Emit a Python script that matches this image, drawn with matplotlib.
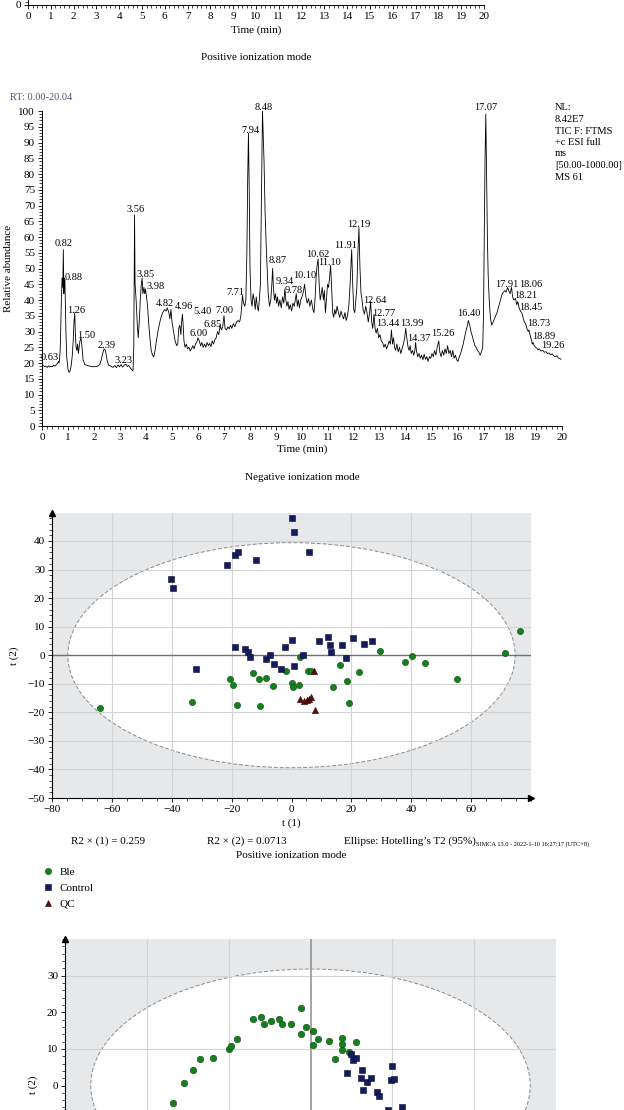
import numpy as np
import matplotlib
matplotlib.use("Agg")
import matplotlib.pyplot as plt
from matplotlib.patches import Ellipse
from matplotlib.ticker import MultipleLocator
from matplotlib.lines import Line2D

plt.rcParams['font.family'] = ['Liberation Serif', 'DejaVu Serif']

# ---------------- data ----------------
# Negative ionization mode TIC trace (time in min, relative abundance %)
neg_time = [
    0.00, 0.05, 0.10, 0.15, 0.20, 0.25, 0.30, 0.35, 0.40, 0.45,
    0.50, 0.55, 0.60, 0.63, 0.66, 0.70, 0.74, 0.77, 0.80, 0.82,
    0.84, 0.86, 0.88, 0.90, 0.92, 0.95, 1.00, 1.04, 1.08, 1.12,
    1.16, 1.20, 1.23, 1.26, 1.28, 1.31, 1.34, 1.37, 1.40, 1.43,
    1.46, 1.50, 1.54, 1.58, 1.65, 1.75, 1.85, 1.95, 2.05, 2.15,
    2.22, 2.28, 2.33, 2.39, 2.44, 2.50, 2.56, 2.65, 2.72, 2.80,
    2.86, 2.92, 2.98, 3.04, 3.10, 3.16, 3.23, 3.28, 3.34, 3.40,
    3.46, 3.50, 3.53, 3.56, 3.58, 3.62, 3.66, 3.70, 3.74, 3.78,
    3.82, 3.85, 3.88, 3.92, 3.95, 3.98, 4.02, 4.06, 4.10, 4.15,
    4.20, 4.25, 4.30, 4.35, 4.40, 4.48, 4.56, 4.64, 4.72, 4.78,
    4.82, 4.88, 4.92, 4.96, 5.00, 5.06, 5.12, 5.18, 5.22, 5.26,
    5.30, 5.34, 5.37, 5.40, 5.43, 5.46, 5.50, 5.55, 5.60, 5.65,
    5.70, 5.75, 5.80, 5.85, 5.90, 5.95, 6.00, 6.05, 6.10, 6.15,
    6.20, 6.25, 6.30, 6.35, 6.40, 6.45, 6.50, 6.55, 6.60, 6.65,
    6.70, 6.75, 6.80, 6.85, 6.90, 6.95, 7.00, 7.04, 7.10, 7.15,
    7.20, 7.25, 7.30, 7.36, 7.42, 7.48, 7.54, 7.60, 7.65, 7.68,
    7.71, 7.75, 7.80, 7.84, 7.88, 7.91, 7.94, 7.97, 8.00, 8.04,
    8.08, 8.12, 8.16, 8.20, 8.24, 8.28, 8.32, 8.36, 8.40, 8.43,
    8.46, 8.48, 8.51, 8.54, 8.58, 8.62, 8.66, 8.70, 8.75, 8.80,
    8.84, 8.87, 8.90, 8.94, 8.98, 9.02, 9.06, 9.10, 9.15, 9.20,
    9.25, 9.30, 9.34, 9.38, 9.42, 9.46, 9.50, 9.55, 9.60, 9.65,
    9.70, 9.74, 9.78, 9.82, 9.86, 9.90, 9.95, 10.00, 10.05, 10.10,
    10.15, 10.20, 10.25, 10.30, 10.36, 10.42, 10.46, 10.50, 10.54, 10.58,
    10.62, 10.66, 10.70, 10.74, 10.78, 10.82, 10.86, 10.90, 10.94, 10.98,
    11.02, 11.06, 11.10, 11.14, 11.18, 11.22, 11.26, 11.30, 11.35, 11.40,
    11.45, 11.50, 11.55, 11.60, 11.65, 11.70, 11.75, 11.80, 11.85, 11.91,
    11.95, 11.99, 12.03, 12.07, 12.11, 12.15, 12.19, 12.23, 12.27, 12.31,
    12.35, 12.40, 12.45, 12.50, 12.55, 12.60, 12.64, 12.68, 12.72, 12.77,
    12.81, 12.85, 12.90, 12.95, 13.00, 13.05, 13.10, 13.15, 13.20, 13.25,
    13.30, 13.35, 13.40, 13.44, 13.48, 13.52, 13.56, 13.60, 13.65, 13.70,
    13.75, 13.80, 13.85, 13.90, 13.95, 13.99, 14.03, 14.08, 14.12, 14.16,
    14.20, 14.25, 14.30, 14.34, 14.37, 14.40, 14.45, 14.50, 14.55, 14.60,
    14.65, 14.70, 14.75, 14.80, 14.85, 14.90, 14.95, 15.00, 15.05, 15.10,
    15.15, 15.20, 15.26, 15.30, 15.35, 15.40, 15.45, 15.50, 15.55, 15.60,
    15.65, 15.70, 15.75, 15.80, 15.85, 15.90, 15.95, 16.00, 16.05, 16.10,
    16.15, 16.20, 16.25, 16.30, 16.35, 16.40, 16.45, 16.50, 16.55, 16.60,
    16.65, 16.70, 16.75, 16.80, 16.85, 16.90, 16.95, 16.98, 17.01, 17.04,
    17.07, 17.10, 17.13, 17.16, 17.20, 17.25, 17.30, 17.35, 17.40, 17.45,
    17.50, 17.55, 17.60, 17.65, 17.70, 17.75, 17.80, 17.85, 17.91, 17.95,
    18.00, 18.06, 18.10, 18.15, 18.21, 18.26, 18.30, 18.35, 18.40, 18.45,
    18.50, 18.55, 18.60, 18.65, 18.70, 18.73, 18.78, 18.82, 18.86, 18.89,
    18.93, 18.98, 19.03, 19.08, 19.13, 19.18, 19.26, 19.32, 19.38, 19.44,
    19.50, 19.56, 19.62, 19.68, 19.74, 19.80, 19.86, 19.92, 19.96,
]
neg_abund = [
    19.0, 19.2, 18.8, 19.0, 18.6, 19.1, 18.7, 19.0, 18.8, 19.3,
    19.0, 19.5, 19.8, 20.5, 20.0, 24, 38, 47, 44, 56,
    42, 47, 46.5, 38, 30, 22, 18, 17, 17.5, 19,
    22, 27, 33, 36, 30, 25, 24, 26, 23, 25,
    27, 28, 25, 21, 19.5, 19.2, 19.0, 18.8, 18.9, 19.0,
    19.5, 21, 23, 24.5, 24, 21, 19.3, 19.0, 18.6, 19.2,
    18.5, 19.4, 18.8, 19.5, 18.7, 19.3, 19.6, 18.9, 19.2, 18.4,
    17.8, 17.5, 25, 67, 45, 40, 33, 28, 33, 40,
    45, 47, 42, 44, 42, 43.5, 41, 38, 33, 28,
    24, 22.5, 22, 24, 27, 31, 34, 36, 37, 36.5,
    37.5, 36, 34, 37, 33, 30, 27, 25.5, 26, 31,
    32, 29, 33, 35.5, 32, 27, 25, 26, 24.5, 25,
    23.8, 24.5, 25.5, 24.5, 26, 26.5, 28, 27, 25.5, 26.5,
    25, 26, 25, 26.5, 25.5, 26.2, 25.2, 27, 26, 27.5,
    28, 30, 29, 32, 30.5, 31.5, 35, 31, 30.5, 31.5,
    30.8, 32, 31, 32.5, 31.5, 33, 33.5, 33, 35, 38,
    41.5, 39, 38, 40, 55, 78, 93, 75, 50, 40,
    38, 42, 40, 37, 41, 38, 36.5, 40, 45, 65,
    85, 100, 92, 84, 68, 58, 50, 42, 38, 40,
    45, 50, 44, 40, 42, 39, 41, 38, 40, 37.5,
    41, 39, 43.5, 40, 38, 39.5, 37, 38.5, 36.5, 39,
    38, 40, 42, 38, 40, 37.5, 40, 41, 42.5, 45,
    41, 39, 40.5, 38, 40, 37, 36, 40, 47, 51,
    53, 45, 40, 42, 44, 40, 43, 36, 40, 45,
    44, 47, 51, 44, 36, 34.5, 37, 35.5, 38, 36,
    34.5, 36.5, 35, 34, 36, 33.5, 35, 38, 45, 56,
    45, 37, 36, 40, 44, 55, 63, 50, 42, 40,
    37, 35.5, 38, 36, 33, 36, 39.5, 33, 31, 35.5,
    31, 29.5, 31, 28, 29, 27, 26.5, 25, 26, 24.5,
    25.5, 27, 26, 30.5, 26, 28, 25, 24, 26, 23.5,
    25, 23, 24.5, 26, 28, 31, 28, 25, 24, 25.5,
    23, 24, 22.5, 24, 26.5, 24, 22, 23, 21.5, 22.5,
    21, 22.8, 21.2, 22, 20.5, 22, 21.5, 23, 22, 24,
    22.5, 25, 27, 23.5, 22, 24, 22.5, 24.5, 23, 25.5,
    23, 24, 22, 24, 21.5, 22.5, 21, 20.5, 22, 23,
    24.5, 26, 28, 30, 31.5, 33.5, 32, 30, 28.5, 27,
    25.5, 25, 24, 23.5, 22.5, 23.5, 25, 35, 60, 85,
    99, 80, 60, 48, 40, 34, 32, 33, 34, 35,
    36, 37.5, 39, 40.5, 42, 42.5, 43, 42.5, 44, 43,
    42, 44, 41, 40, 40.5, 38.5, 39.5, 37.5, 36.5, 36,
    34.5, 33, 32.5, 31, 30, 30.5, 28.5, 27.5, 26, 26.5,
    25.5, 25, 24.7, 24.2, 24.5, 23.8, 24, 23.4, 23.6, 23,
    23.2, 22.6, 22.9, 22.3, 22.0, 22.3, 21.6, 21.4, 21.2,
]

peak_labels = ["0.63", "0.82", "0.88", "1.26", "1.50", "2.39", "3.23", "3.56",
               "3.85", "3.98", "4.82", "4.96", "5.40", "6.00", "6.85", "7.00",
               "7.71", "7.94", "8.48", "8.87", "9.34", "9.78", "10.10", "10.62",
               "11.10", "11.91", "12.19", "12.64", "12.77", "13.44", "13.99",
               "14.37", "15.26", "16.40", "17.07", "17.91", "18.06", "18.21",
               "18.45", "18.73", "18.89", "19.26"]

nl_lines = ["NL:", "8.42E7", "TIC F: FTMS", "+c ESI full", "ms",
            "[50.00-1000.00]", "MS 61"]

# PCA score plot (positive ionization mode)
ble1_t1 = [-64.1, -33.3, -20.4, -19.6, -18.2, -13.0, -10.8, -8.4, -6.1, -10.4,
           -2.0, 0.2, 0.6, 2.6, 2.9, 5.6, 6.6, 13.8, 16.2, 18.4,
           19.1, 22.6, 29.7, 37.9, 40.2, 44.6, 55.4, 71.4, 76.3]
ble1_t2 = [-18.6, -16.4, -8.2, -10.4, -17.4, -6.3, -8.3, -8.0, -10.8, -17.9,
           -5.6, -9.9, -11.1, -10.4, -0.6, -5.7, -5.7, -11.2, -3.5, -8.9,
           -16.7, -6.0, 1.5, -2.3, -0.2, -2.6, -8.2, 0.9, 8.5]
ctl1_t1 = [-40.1, -39.6, -21.4, -18.8, -18.0, -11.8, 0.1, 1.0, 5.8, -31.9,
           -18.8, -15.6, -14.4, -13.8, -8.6, -7.1, -6.0, -3.6, -2.2, 0.2,
           0.9, 3.8, 9.1, 12.2, 12.7, 13.2, 17.0, 18.2, 20.7, 24.1, 26.9]
ctl1_t2 = [26.7, 23.7, 31.5, 35.1, 36.1, 33.3, 48.0, 43.2, 36.0, -4.8,
           2.9, 2.2, 1.3, -0.7, -1.4, 0.0, -3.2, -4.7, 2.9, 5.4,
           -3.7, 0.0, 4.9, 6.5, 3.5, 1.3, 3.5, -0.9, 6.1, 4.0, 4.9]
qc1_t1 = [2.9, 4.2, 5.1, 5.8, 6.6, 7.8, 7.6]
qc1_t2 = [-15.4, -16.1, -15.8, -15.5, -14.6, -19.3, -5.7]
ellipse1_axes = (74.7, 39.4)

# PCA score plot (negative ionization mode, upper part)
ble2_t1 = [-33.6, -31.0, -28.7, -26.9, -23.9, -20.0, -19.5, -18.0, -14.1, -12.0,
           -11.3, -9.6, -7.7, -7.0, -4.7, -2.3, -2.4, -1.0, 0.7, 1.9,
           0.6, 4.4, 7.7, 7.8, 7.6, 6.0, 9.3, 11.1]
ble2_t2 = [-4.9, 0.7, 4.1, 7.1, 7.6, 10.0, 10.8, 12.8, 18.2, 18.6,
           16.9, 17.6, 18.2, 16.7, 16.7, 21.1, 14.1, 16.0, 14.9, 12.8,
           11.1, 12.1, 13.0, 11.2, 9.7, 7.3, 9.2, 11.8]
ctl2_t1 = [9.9, 10.3, 11.1, 8.8, 12.6, 12.3, 13.7, 14.7, 12.9, 16.2,
           16.7, 19.9, 19.6, 20.5, 18.9, 22.4]
ctl2_t2 = [8.7, 7.0, 7.4, 3.4, 4.3, 2.0, 0.9, 2.0, -1.1, -1.7,
           -3.0, 5.2, 1.4, 1.7, -6.6, -5.9]
ellipse2_axes = (53.7, 31.8)

groups = ["Ble", "Control", "QC"]

# ---------------- layout helpers ----------------
W, H = 624, 1110
fig = plt.figure(figsize=(W / 100, H / 100), dpi=100)


def rect(l, t, r, b):
    return [l / W, 1 - b / H, (r - l) / W, (b - t) / H]


def fx(x):
    return x / W


def fy(y):
    return 1 - y / H


FS = 8

# ---------------- Panel A (cut off chromatogram axis) ----------------
axA = fig.add_axes(rect(28, -320, 484, 5))
axA.set_xlim(0, 20)
axA.set_ylim(0, 100)
for s in ["top", "right"]:
    axA.spines[s].set_visible(False)
axA.spines["bottom"].set_linewidth(0.7)
axA.spines["left"].set_linewidth(0.7)
axA.xaxis.set_major_locator(MultipleLocator(1))
axA.xaxis.set_minor_locator(MultipleLocator(0.2))
axA.yaxis.set_major_locator(MultipleLocator(5))
axA.yaxis.set_minor_locator(MultipleLocator(1))
axA.tick_params(axis="both", which="major", length=3, width=0.6, labelsize=FS, pad=2)
axA.tick_params(axis="both", which="minor", length=2, width=0.5)
axA.set_yticklabels([])
fig.text(fx(18), fy(5), "0", fontsize=FS, ha="center", va="center")
axA.set_xlabel("Time (min)", fontsize=FS, labelpad=3)
fig.text(fx(256), fy(57), "Positive ionization mode", fontsize=FS, ha="center", va="center")

# ---------------- Panel B (negative chromatogram) ----------------
axB = fig.add_axes(rect(42, 111, 562, 426))
axB.plot(neg_time, neg_abund, color="black", lw=0.6)
axB.set_xlim(0, 20)
axB.set_ylim(0, 100)
for s in ["top", "right"]:
    axB.spines[s].set_visible(False)
axB.spines["bottom"].set_linewidth(0.7)
axB.spines["left"].set_linewidth(0.7)
axB.xaxis.set_major_locator(MultipleLocator(1))
axB.xaxis.set_minor_locator(MultipleLocator(0.2))
axB.yaxis.set_major_locator(MultipleLocator(5))
axB.yaxis.set_minor_locator(MultipleLocator(1))
axB.tick_params(axis="both", which="major", length=3, width=0.6, labelsize=FS, pad=2)
axB.tick_params(axis="both", which="minor", length=2, width=0.5)
axB.set_xlabel("Time (min)", fontsize=FS, labelpad=2)
axB.set_ylabel("Relative abundance", fontsize=FS, labelpad=4)

label_offsets = [(-0.33, 0.3), (0.0, 1.0), (0.34, 0.0), (0.07, 0.0), (0.19, 0.0),
                 (0.08, 0.3), (-0.09, 0.3), (0.04, 1.0), (0.14, 0.3), (0.37, 0.0),
                 (-0.1, 0.7), (0.49, 0.3), (0.77, 0.0), (0.04, 0.5), (-0.27, -0.5),
                 (0.0, 0.8), (-0.29, 0.0), (0.07, 0.0), (0.05, 0.3), (0.18, 1.6),
                 (0.0, 1.5), (-0.11, 0.3), (0.0, 1.9), (0.0, 0.7), (-0.04, 0.1),
                 (-0.22, 0.4), (0.0, 0.3), (0.17, -0.6), (0.36, -0.6), (-0.13, 1.2),
                 (0.24, 0.7), (0.13, 0.6), (0.15, 1.6), (0.0, 1.4), (0.0, 1.3),
                 (-0.05, 0.2), (0.74, 0.2), (0.38, 0.0), (0.35, 0.8), (0.39, 1.2),
                 (0.41, 1.1), (0.38, 0.9)]
for lab, (dx, dy) in zip(peak_labels, label_offsets):
    rt = float(lab)
    h = float(np.interp(rt, neg_time, neg_abund))
    axB.text(rt + dx, h + dy, lab, fontsize=7.5, ha="center", va="baseline",
             clip_on=False)

fig.text(fx(10), fy(97), "RT: 0.00-20.04", fontsize=7.5, color="#4d5378",
         ha="left", va="center")
for i, line in enumerate(nl_lines):
    fig.text(fx(555), fy(108 + i * 11.5), line, fontsize=7.5, ha="left", va="center")
fig.text(fx(302), fy(478), "Negative ionization mode", fontsize=FS, ha="center", va="center")

# ---------------- PCA helper ----------------
BG = "#e7e8ea"
GRID = "#d2d3d5"
c_ble, e_ble = "#13801d", "#0a4a0f"
c_ctl, e_ctl = "#141b5e", "#070a2c"
c_qc, e_qc = "#5e0c0c", "#2a0404"


def pca_axes(ax, xlim, ylim, ell, xgrid, ygrid, vzero, hzero):
    ax.set_facecolor(BG)
    ax.set_xlim(*xlim)
    ax.set_ylim(*ylim)
    ax.add_patch(Ellipse((0, 0), 2 * ell[0], 2 * ell[1], facecolor="white",
                         edgecolor="#8a8a8a", lw=0.7, ls=(0, (4, 2)), zorder=1))
    for g in xgrid:
        ax.axvline(g, color=GRID, lw=0.8, zorder=1.5)
    for g in ygrid:
        ax.axhline(g, color=GRID, lw=0.8, zorder=1.5)
    if vzero:
        ax.axvline(0, color="#8c8c8c", lw=1.1, zorder=1.6)
    if hzero:
        ax.axhline(0, color="#707070", lw=1.0, zorder=1.6)
    for s in ["top", "right"]:
        ax.spines[s].set_visible(False)
    ax.spines["left"].set_linewidth(0.8)
    ax.spines["bottom"].set_linewidth(0.8)
    ax.tick_params(axis="both", which="major", length=3, width=0.6, labelsize=FS, pad=2)
    ax.tick_params(axis="both", which="minor", length=2, width=0.5)
    ax.plot(0, 1, marker="^", color="black", ms=4, transform=ax.transAxes, clip_on=False)
    ax.plot(1, 0, marker=">", color="black", ms=4, transform=ax.transAxes, clip_on=False)


# ---------------- Panel C (positive PCA) ----------------
axC = fig.add_axes(rect(52, 513, 531, 798))
pca_axes(axC, (-80, 80), (-50, 49.8), ellipse1_axes,
         [-60, -40, -20, 20, 40, 60], [-40, -30, -20, -10, 10, 20, 30, 40],
         vzero=False, hzero=True)
axC.set_xticks([-80, -60, -40, -20, 0, 20, 40, 60])
axC.xaxis.set_minor_locator(MultipleLocator(5))
axC.set_yticks(list(range(-50, 41, 10)))
axC.yaxis.set_minor_locator(MultipleLocator(2))
axC.set_yticklabels(["\u2212%d" % -v if v < 0 else "%d" % v for v in range(-50, 41, 10)])
axC.set_xticklabels(["\u2212%d" % -v if v < 0 else "%d" % v
                     for v in [-80, -60, -40, -20, 0, 20, 40, 60]])
axC.scatter(ble1_t1, ble1_t2, s=20, marker="o", c=c_ble, edgecolors=e_ble, linewidths=0.4, zorder=3)
axC.scatter(ctl1_t1, ctl1_t2, s=20, marker="s", c=c_ctl, edgecolors=e_ctl, linewidths=0.4, zorder=3)
axC.scatter(qc1_t1, qc1_t2, s=20, marker="^", c=c_qc, edgecolors=e_qc, linewidths=0.4, zorder=3)
axC.set_xlabel("t (1)", fontsize=FS, labelpad=3)
axC.set_ylabel("t (2)", fontsize=FS, labelpad=6)

fig.text(fx(108), fy(841), "R2 \u00d7 (1) = 0.259", fontsize=FS, ha="center", va="center")
fig.text(fx(247), fy(841), "R2 \u00d7 (2) = 0.0713", fontsize=FS, ha="center", va="center")
fig.text(fx(344), fy(841), "Ellipse: Hotelling\u2019s T2 (95%)", fontsize=FS, ha="left", va="center")
fig.text(fx(476), fy(844), "SIMCA 13.0 - 2022-1-10 16:27:17 (UTC+8)", fontsize=4.6,
         ha="left", va="center")
fig.text(fx(291), fy(855), "Positive ionization mode", fontsize=FS, ha="center", va="center")

handles = [
    Line2D([], [], ls="", marker="o", ms=4.5, mfc=c_ble, mec=e_ble, mew=0.4),
    Line2D([], [], ls="", marker="s", ms=4.5, mfc=c_ctl, mec=e_ctl, mew=0.4),
    Line2D([], [], ls="", marker="^", ms=4.5, mfc=c_qc, mec=e_qc, mew=0.4),
]
fig.legend(handles, groups, loc="upper left", bbox_to_anchor=(fx(44), fy(867)),
           frameon=False, fontsize=FS, handlelength=0.8, handletextpad=0.6,
           labelspacing=0.55, borderpad=0, borderaxespad=0)

# ---------------- Panel D (second PCA, cut off at the figure bottom) ----------------
axD = fig.add_axes(rect(65, 939, 556, 1232))
pca_axes(axD, (-60, 60), (-40, 40), ellipse2_axes,
         [-40, -20, 20, 40], [-30, -10, 10, 30],
         vzero=True, hzero=False)
axD.set_yticks(list(range(-30, 31, 10)))
axD.yaxis.set_minor_locator(MultipleLocator(2))
axD.set_yticklabels(["", "", "", "0", "10", "20", "30"])
axD.set_xticks([-60, -40, -20, 0, 20, 40, 60])
axD.xaxis.set_minor_locator(MultipleLocator(5))
axD.set_xticklabels([])
axD.scatter(ble2_t1, ble2_t2, s=22, marker="o", c=c_ble, edgecolors=e_ble, linewidths=0.4, zorder=3)
axD.scatter(ctl2_t1, ctl2_t2, s=22, marker="s", c=c_ctl, edgecolors=e_ctl, linewidths=0.4, zorder=3)
fig.text(fx(33), fy(1085), "t (2)", fontsize=FS, rotation=90, ha="center", va="center")

fig.savefig("out.png", dpi=100)
